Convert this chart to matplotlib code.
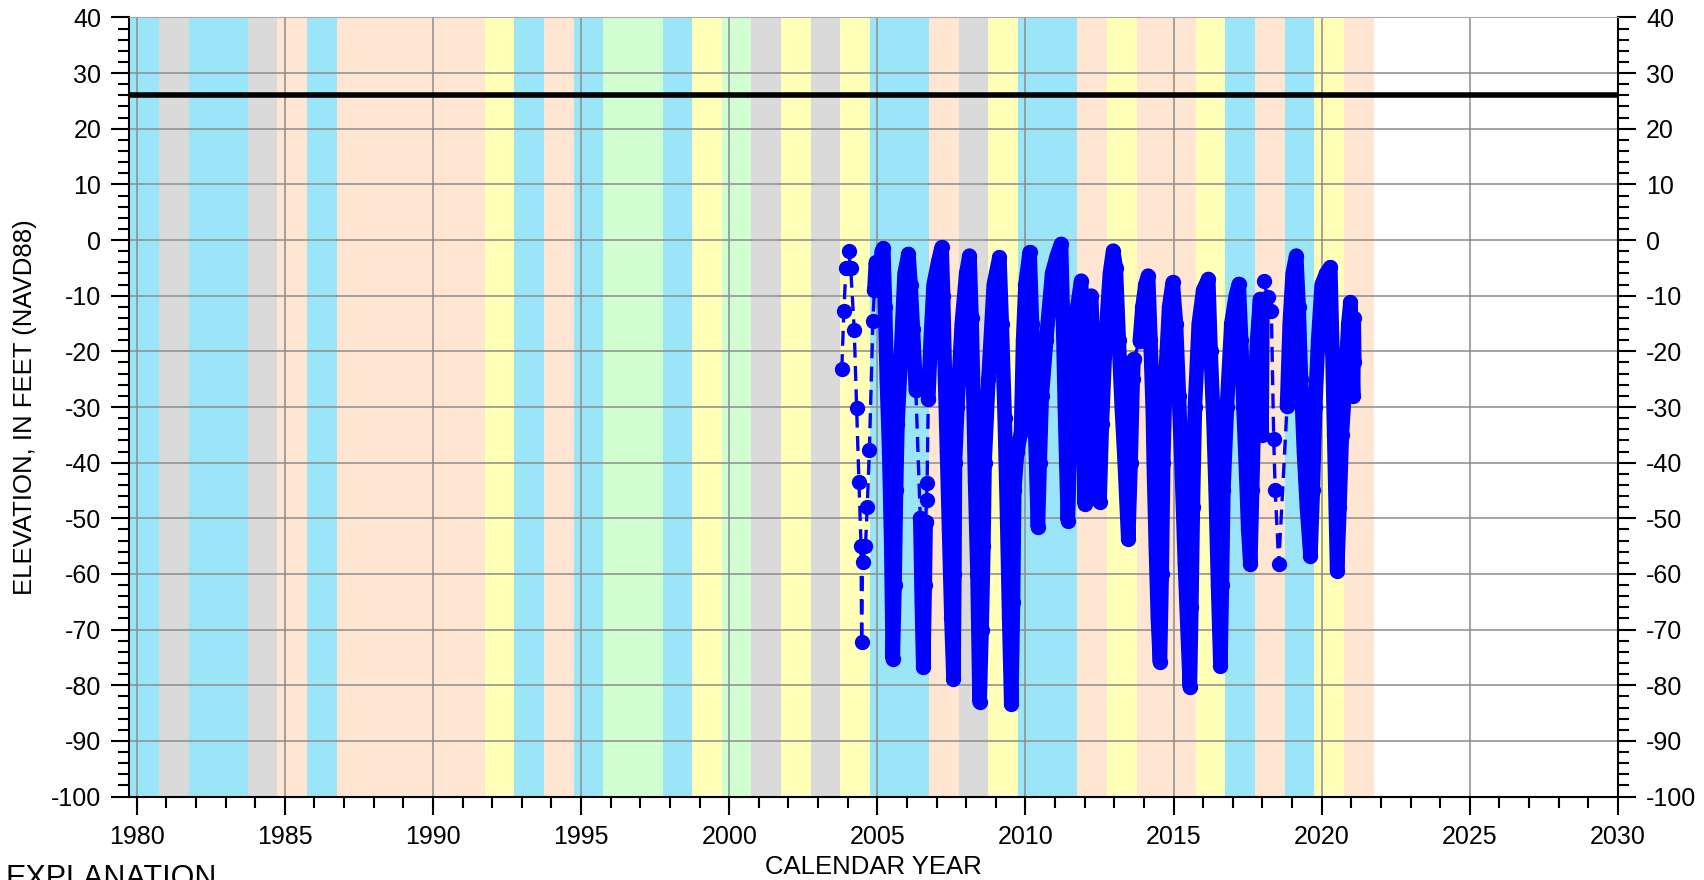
import numpy as np
import matplotlib
matplotlib.use("Agg")
import matplotlib.pyplot as plt

plt.rcParams['font.family'] = ['Liberation Sans', 'DejaVu Sans']
plt.rcParams['axes.unicode_minus'] = False

# water year class (Oct 1 - Sep 30) shaded behind the hydrograph
water_years = list(range(1980, 2022))
wy_class = ["W", "C", "W", "W", "C", "D", "W", "D", "D", "D", "D", "D",
            "BN", "W", "D", "W", "AN", "AN", "W", "BN", "AN", "C", "BN", "C",
            "BN", "W", "W", "D", "C", "BN", "W", "W", "D", "BN", "D", "D",
            "BN", "W", "D", "W", "BN", "D"]
class_colors = {"W": "#9ae6f8", "AN": "#d2ffd2", "BN": "#ffffb8",
                "D": "#ffe6d2", "C": "#dadada"}

ref_level = 26  # land surface / reference elevation

dense_t = [2004.90, 2004.95, 2005.05, 2005.15, 2005.20, 2005.26, 2005.32, 2005.40, 2005.47, 2005.52,
           2005.58, 2005.63, 2005.68, 2005.80, 2005.92, 2006.05, 2006.12, 2006.20, 2006.30, np.nan,
           2006.45, 2006.50, 2006.55, 2006.60, 2006.63, np.nan,
           2006.72, 2006.80, 2006.90, 2007.05, 2007.17, 2007.22, 2007.28, 2007.35, 2007.42, 2007.50,
           2007.57, 2007.60, 2007.62, 2007.70, 2007.85, 2008.00, 2008.11, 2008.18, 2008.25, 2008.30,
           2008.38, 2008.45, 2008.52, 2008.58, 2008.62, 2008.75, 2008.93, 2009.12, 2009.20, 2009.30,
           2009.38, 2009.45, 2009.52, 2009.58, 2009.62, 2009.72, 2009.85, 2009.92, 2010.00, 2010.14,
           2010.22, 2010.30, 2010.36, 2010.42, 2010.48, 2010.55, 2010.70, 2010.90, 2011.05, 2011.20,
           2011.27, 2011.33, 2011.38, 2011.43, 2011.50, 2011.60, 2011.75, 2011.88, 2011.94, 2012.00,
           2012.06, 2012.12, 2012.22, 2012.30, 2012.40, 2012.50, 2012.58, 2012.70, 2012.85, 2012.96,
           2013.05, 2013.15, 2013.25, 2013.35, 2013.47, 2013.55, 2013.62, 2013.65, np.nan,
           2013.86, 2013.95, 2014.05, 2014.14, 2014.22, 2014.30, 2014.33, 2014.40, 2014.47, 2014.54,
           2014.60, 2014.65, 2014.72, 2014.85, 2014.97, 2015.08, 2015.18, 2015.28, 2015.38, 2015.47,
           2015.55, 2015.60, 2015.65, 2015.72, 2015.85, 2016.00, 2016.17, 2016.25, 2016.35, 2016.42,
           2016.50, 2016.58, 2016.63, 2016.68, 2016.80, 2016.95, 2017.10, 2017.20, 2017.28, 2017.36,
           2017.45, 2017.52, 2017.59, 2017.65, 2017.72, 2017.82, 2017.92, 2017.97, 2018.00, np.nan,
           2018.83, 2018.92, 2019.02, 2019.14, 2019.22, 2019.30, 2019.40, 2019.50, 2019.62, 2019.70,
           2019.78, 2019.88, 2020.00, 2020.15, 2020.29, 2020.36, 2020.42, 2020.47, 2020.52, 2020.60,
           2020.68, 2020.80, 2020.90, 2020.97, 2021.02, 2021.06, 2021.08, 2021.10]
dense_z = [-9.0, -4.0, -8.0, -2.0, -1.5, -12.0, -25.0, -38.0, -55.0, -75.3,
           -62.0, -45.0, -33.0, -20.0, -6.0, -2.5, -8.0, -16.0, -27.0, np.nan,
           -50.0, -65.0, -76.8, -62.0, -50.7, np.nan,
           -28.6, -18.0, -8.0, -4.0, -1.3, -10.0, -24.0, -38.0, -52.0, -68.0,
           -78.9, -60.0, -40.0, -30.0, -15.0, -6.0, -2.8, -14.0, -30.0, -43.5,
           -60.0, -83.0, -70.0, -55.0, -40.0, -25.0, -8.0, -3.1, -15.0, -32.0,
           -50.0, -68.0, -83.4, -65.0, -45.0, -38.0, -34.5, -18.0, -8.0, -2.2,
           -15.0, -30.0, -40.0, -51.6, -40.0, -28.0, -18.0, -6.0, -3.0, -0.7,
           -15.0, -30.0, -40.0, -50.4, -38.0, -25.0, -12.0, -7.3, -25.0, -47.5,
           -30.0, -12.0, -10.0, -25.0, -38.0, -47.1, -33.0, -18.0, -6.0, -1.9,
           -5.0, -18.0, -30.0, -40.0, -53.7, -40.0, -25.0, -21.4, np.nan,
           -18.1, -12.0, -8.0, -6.4, -18.0, -31.0, -40.0, -55.0, -68.0, -75.9,
           -60.0, -40.0, -25.0, -12.0, -7.6, -15.0, -28.0, -42.0, -58.0, -70.0,
           -80.4, -66.0, -48.0, -30.0, -15.0, -9.0, -7.0, -20.0, -33.0, -45.0,
           -62.0, -76.5, -62.0, -45.0, -30.0, -15.0, -10.0, -7.9, -18.0, -30.0,
           -42.0, -52.0, -58.2, -45.0, -30.0, -18.0, -10.6, -35.0, -12.0, np.nan,
           -29.8, -15.0, -6.0, -2.8, -12.0, -25.0, -38.0, -48.0, -56.7, -45.0,
           -30.0, -18.0, -8.0, -6.0, -4.9, -20.0, -35.0, -48.0, -59.4, -48.0,
           -35.0, -25.0, -15.0, -11.2, -20.0, -28.0, -14.0, -22.0]

# periodic (sparse) measurements, joined by dashed line
sparse_t = [2003.80, 2003.87, 2003.94, 2004.03, 2004.10, 2004.22, 2004.30, 2004.38, 2004.45, 2004.47,
            2004.50, 2004.60, 2004.66, 2004.73, 2004.85, 2004.90, np.nan,
            2006.30, 2006.45, np.nan,
            2006.63, 2006.66, 2006.68, 2006.72, np.nan,
            2013.65, 2013.86, np.nan,
            2018.00, 2018.04, 2018.18, 2018.30, 2018.38, 2018.43, 2018.55, 2018.83]
sparse_z = [-23.2, -12.7, -5.0, -2.0, -5.0, -16.1, -30.1, -43.5, -55.0, -72.2,
            -57.9, -54.9, -47.9, -37.8, -14.5, -9.0, np.nan,
            -27.0, -50.0, np.nan,
            -50.7, -46.8, -43.6, -28.6, np.nan,
            -21.4, -18.1, np.nan,
            -12.0, -7.3, -10.3, -12.7, -35.7, -45.0, -58.2, -29.8]

fig = plt.figure(figsize=(17.04, 8.8), dpi=100)
ax = fig.add_axes([0.0759, 0.0948, 0.8736, 0.8854])

# background water-year shading
for wy, c in zip(water_years, wy_class):
    ax.axvspan(wy - 0.25, wy + 0.75, color=class_colors[c], lw=0, zorder=0.2)

ax.axhline(ref_level, color="black", lw=4, zorder=3)

ax.plot(sparse_t, sparse_z, color="blue", lw=2.4, ls="--", dashes=(4.5, 2.5),
        marker="o", ms=10, zorder=4)
ax.plot(dense_t, dense_z, color="blue", lw=10.5, ls="-", solid_joinstyle="round",
        solid_capstyle="round", marker="o", ms=10, zorder=4)

ax.set_xlim(1979.75, 2030)
ax.set_ylim(-100, 40)
ax.set_xticks(np.arange(1980, 2031, 5))
ax.set_xticks(np.arange(1980, 2031, 1), minor=True)
ax.set_yticks(np.arange(-100, 41, 10))
ax.set_yticks(np.arange(-100, 41, 2), minor=True)

ax.set_axisbelow(True)
ax.grid(True, which="major", color="#8c8c8c", lw=1.1)

ax.tick_params(which="major", direction="out", length=13.3, width=1.5,
               labelsize=18, pad=7, right=True, labelright=True, top=False)
ax.tick_params(which="minor", direction="out", length=8, width=1.5,
               right=True, top=False)
for s in ["left", "right", "bottom"]:
    ax.spines[s].set_linewidth(1.5)
ax.spines["top"].set_color("#a8a8a8")

ax.set_xlabel("CALENDAR YEAR", fontsize=18.5)
ax.xaxis.set_label_coords(0.5, -0.075)
ax.set_ylabel("ELEVATION, IN FEET (NAVD88)", fontsize=18.5)
ax.yaxis.set_label_coords(-0.062, 0.5)

# legend heading, partly below the bottom edge as in the original layout
fig.text(0.003, 0.018, "EXPLANATION", fontsize=22, va="top", ha="left")

fig.savefig("out.png", dpi=100)
